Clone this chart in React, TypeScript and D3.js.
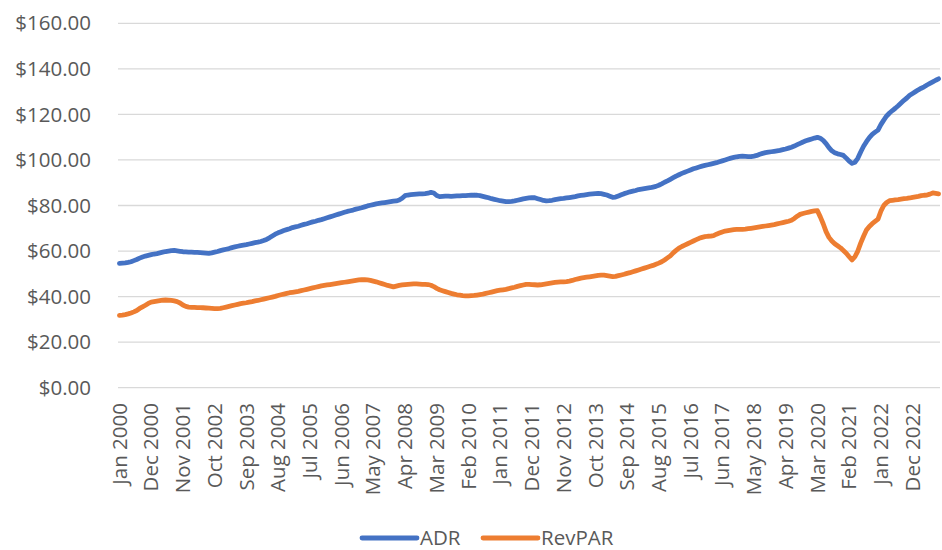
import React, { useEffect, useRef } from 'react';
import * as d3 from 'd3';

// monthly, Jan 2000 .. Sep 2023
const adr = [
  54.6, 54.7, 54.8, 55.0, 55.3, 55.8, 56.3, 56.9, 57.4, 57.8, 58.1, 58.4,
  58.7, 58.9, 59.2, 59.5, 59.8, 60.0, 60.2, 60.3, 60.1, 59.9, 59.7, 59.6,
  59.5, 59.5, 59.4, 59.4, 59.3, 59.2, 59.1, 59.0, 59.2, 59.5, 59.8, 60.2,
  60.5, 60.8, 61.1, 61.5, 61.8, 62.1, 62.4, 62.6, 62.8, 63.1, 63.4, 63.7,
  63.9, 64.2, 64.6, 65.1, 65.8, 66.6, 67.4, 68.0, 68.5, 69.0, 69.4, 69.8,
  70.3, 70.6, 70.9, 71.3, 71.7, 72.0, 72.4, 72.8, 73.1, 73.5, 73.8, 74.2,
  74.6, 75.0, 75.4, 75.8, 76.2, 76.6, 77.0, 77.4, 77.7, 78.0, 78.4, 78.7,
  79.0, 79.4, 79.8, 80.1, 80.4, 80.7, 80.9, 81.1, 81.3, 81.5, 81.7, 81.9,
  82.0, 82.4, 83.2, 84.3, 84.6, 84.8, 84.9, 85.0, 85.1, 85.1, 85.2, 85.4,
  85.8, 85.5, 84.4, 83.9, 84.0, 84.1, 84.1, 84.0, 84.1, 84.2, 84.2, 84.3,
  84.3, 84.4, 84.5, 84.6, 84.5, 84.3, 84.0, 83.7, 83.4, 83.0, 82.7, 82.4,
  82.1, 81.9, 81.7, 81.7, 81.8, 82.0, 82.3, 82.6, 82.9, 83.1, 83.3, 83.5,
  83.4, 83.0, 82.6, 82.2, 82.0, 82.1, 82.3, 82.6, 82.8, 83.0, 83.1, 83.3,
  83.5, 83.7, 83.9, 84.2, 84.4, 84.6, 84.8, 85.0, 85.1, 85.2, 85.3, 85.2,
  84.9, 84.6, 84.1, 83.6, 83.7, 84.2, 84.7, 85.2, 85.6, 86.0, 86.3, 86.6,
  87.0, 87.2, 87.4, 87.6, 87.8, 88.1, 88.4, 88.9, 89.5, 90.2, 90.8, 91.5,
  92.2, 92.9, 93.5, 94.1, 94.6, 95.1, 95.6, 96.1, 96.5, 96.9, 97.3, 97.6,
  97.9, 98.2, 98.5, 98.8, 99.2, 99.6, 100.0, 100.4, 100.8, 101.1, 101.4, 101.6,
  101.7, 101.6, 101.5, 101.5, 101.7, 102.0, 102.5, 102.9, 103.2, 103.4, 103.6, 103.8,
  104.0, 104.2, 104.5, 104.8, 105.2, 105.6, 106.1, 106.7, 107.3, 107.9, 108.4, 108.8,
  109.2, 109.6, 109.9, 109.5, 108.6, 107.2, 105.4, 104.0, 103.2, 102.7, 102.4, 102.0,
  100.8, 99.5, 98.5, 99.0, 100.7, 103.5, 106.0, 108.0, 109.8, 111.2, 112.2, 113.1,
  115.5, 117.5, 119.3, 120.6, 121.7, 122.7, 123.8, 125.0, 126.2, 127.2, 128.4, 129.2,
  130.0, 130.8, 131.5, 132.1, 132.9, 133.6, 134.3, 135.0, 135.6,
];

const revpar = [
  31.8, 31.9, 32.1, 32.4, 32.8, 33.3, 33.9, 34.8, 35.5, 36.2, 37.0, 37.6,
  37.8, 38.0, 38.2, 38.4, 38.5, 38.4, 38.3, 38.1, 37.8, 37.2, 36.3, 35.7,
  35.4, 35.3, 35.3, 35.2, 35.2, 35.1, 35.0, 34.9, 34.8, 34.7, 34.7, 34.8,
  35.1, 35.4, 35.7, 36.0, 36.3, 36.6, 36.9, 37.1, 37.3, 37.6, 37.8, 38.1,
  38.3, 38.6, 38.9, 39.2, 39.5, 39.8, 40.1, 40.5, 40.8, 41.1, 41.4, 41.7,
  41.9, 42.1, 42.3, 42.6, 42.9, 43.2, 43.5, 43.8, 44.1, 44.4, 44.7, 44.9,
  45.1, 45.3, 45.5, 45.7, 45.9, 46.1, 46.3, 46.5, 46.7, 46.9, 47.1, 47.3,
  47.4, 47.4, 47.3, 47.1, 46.8, 46.5, 46.1, 45.7, 45.3, 44.9, 44.6, 44.3,
  44.6, 44.9, 45.1, 45.3, 45.4, 45.5, 45.6, 45.6, 45.5, 45.4, 45.4, 45.3,
  45.0, 44.4, 43.6, 43.0, 42.6, 42.2, 41.8, 41.4, 41.1, 40.8, 40.6, 40.4,
  40.3, 40.3, 40.4, 40.5, 40.7, 40.9, 41.1, 41.4, 41.7, 42.0, 42.3, 42.6,
  42.8, 43.0, 43.2, 43.5, 43.8, 44.1, 44.5, 44.8, 45.1, 45.4, 45.4, 45.3,
  45.2, 45.1, 45.2, 45.4, 45.6, 45.8, 46.0, 46.2, 46.4, 46.5, 46.5, 46.6,
  46.8, 47.1, 47.5, 47.8, 48.1, 48.3, 48.5, 48.7, 48.9, 49.1, 49.3, 49.4,
  49.4, 49.2, 49.0, 48.8, 48.9, 49.2, 49.5, 49.8, 50.2, 50.5, 50.9, 51.3,
  51.7, 52.1, 52.5, 52.9, 53.3, 53.7, 54.2, 54.7, 55.3, 56.1, 57.0, 57.9,
  59.2, 60.3, 61.3, 62.0, 62.6, 63.2, 63.8, 64.4, 65.0, 65.6, 66.0, 66.3,
  66.5, 66.6, 66.8, 67.4, 67.9, 68.4, 68.8, 69.0, 69.2, 69.4, 69.5, 69.5,
  69.5, 69.6, 69.8, 70.0, 70.2, 70.4, 70.6, 70.8, 71.0, 71.2, 71.4, 71.6,
  71.9, 72.2, 72.5, 72.8, 73.1, 73.5, 74.3, 75.3, 76.1, 76.5, 76.8, 77.1,
  77.4, 77.6, 77.7, 75.0, 72.0, 68.5, 66.0, 64.4, 63.2, 62.3, 61.4, 60.2,
  59.0, 57.5, 56.1, 57.5, 60.0, 63.5, 66.5, 69.2, 70.8, 72.0, 73.0, 74.0,
  77.5, 80.0, 81.3, 82.1, 82.3, 82.5, 82.6, 82.8, 83.0, 83.1, 83.3, 83.6,
  83.8, 84.0, 84.3, 84.5, 84.6, 85.0, 85.5, 85.3, 85.1,
];

const tickLabels = [
  'Jan 2000', 'Dec 2000', 'Nov 2001', 'Oct 2002', 'Sep 2003', 'Aug 2004',
  'Jul 2005', 'Jun 2006', 'May 2007', 'Apr 2008', 'Mar 2009', 'Feb 2010',
  'Jan 2011', 'Dec 2011', 'Nov 2012', 'Oct 2013', 'Sep 2014', 'Aug 2015',
  'Jul 2016', 'Jun 2017', 'May 2018', 'Apr 2019', 'Mar 2020', 'Feb 2021',
  'Jan 2022', 'Dec 2022',
];

const yTicks = [0, 20, 40, 60, 80, 100, 120, 140, 160];

const seriesNames = ['ADR', 'RevPAR'];
const seriesColors = ['#4472C4', '#ED7D31'];

const months = d3.timeMonths(new Date(2000, 0, 1), new Date(2023, 9, 1));
const fmtMonth = d3.timeFormat('%b %Y');
const categories = months.map(m => fmtMonth(m));

const FONT = '"Open Sans", "Liberation Sans", sans-serif';
const FONT_SIZE = '20.5px';

export default function App() {
  const svgRef = useRef<SVGSVGElement>(null);

  useEffect(() => {
    const svg = d3.select(svgRef.current);
    svg.selectAll('*').remove();

    const x = d3.scalePoint<string>()
      .domain(categories)
      .range([118, 940])
      .padding(0.5);

    const y = d3.scaleLinear().domain([0, 160]).range([387.7, 23.3]);

    // gridlines
    svg.append('g')
      .selectAll('line')
      .data(yTicks)
      .join('line')
      .attr('x1', 118)
      .attr('x2', 940)
      .attr('y1', d => y(d))
      .attr('y2', d => y(d))
      .attr('stroke', '#d9d9d9')
      .attr('stroke-width', 1.3);

    // y labels
    svg.append('g')
      .selectAll('text')
      .data(yTicks)
      .join('text')
      .attr('x', 91)
      .attr('y', d => y(d))
      .attr('dy', '0.35em')
      .attr('text-anchor', 'end')
      .style('font-family', FONT)
      .style('font-size', FONT_SIZE)
      .style('fill', '#595959')
      .text(d => `$${d3.format('.2f')(d)}`);

    // x labels (every 11th month)
    svg.append('g')
      .selectAll('text')
      .data(tickLabels)
      .join('text')
      .attr('transform', d => `translate(${x(d)},403) rotate(-90)`)
      .attr('dy', '0.35em')
      .attr('text-anchor', 'end')
      .style('font-family', FONT)
      .style('font-size', FONT_SIZE)
      .style('fill', '#595959')
      .text(d => d);

    const line = d3.line<number>()
      .x((_, i) => x(categories[i]) as number)
      .y(d => y(d));

    [adr, revpar].forEach((vals, k) => {
      svg.append('path')
        .datum(vals)
        .attr('d', line)
        .attr('fill', 'none')
        .attr('stroke', seriesColors[k])
        .attr('stroke-width', 4.8)
        .attr('stroke-linejoin', 'round')
        .attr('stroke-linecap', 'round');
    });

    // legend
    const legendX = [362, 483];
    const legend = svg.append('g')
      .selectAll('g')
      .data(seriesNames)
      .join('g')
      .attr('transform', (_, i) => `translate(${legendX[i]},538)`);
    legend.append('line')
      .attr('x1', 0)
      .attr('x2', 55)
      .attr('stroke', (_, i) => seriesColors[i])
      .attr('stroke-width', 4.8)
      .attr('stroke-linecap', 'round');
    legend.append('text')
      .attr('x', 58)
      .attr('dy', '0.35em')
      .style('font-family', FONT)
      .style('font-size', FONT_SIZE)
      .style('fill', '#595959')
      .text(d => d);
  }, []);

  return (
    <svg
      ref={svgRef}
      width={942}
      height={550}
      style={{ position: 'absolute', left: 0, top: 0, background: '#fff' }}
    />
  );
}
